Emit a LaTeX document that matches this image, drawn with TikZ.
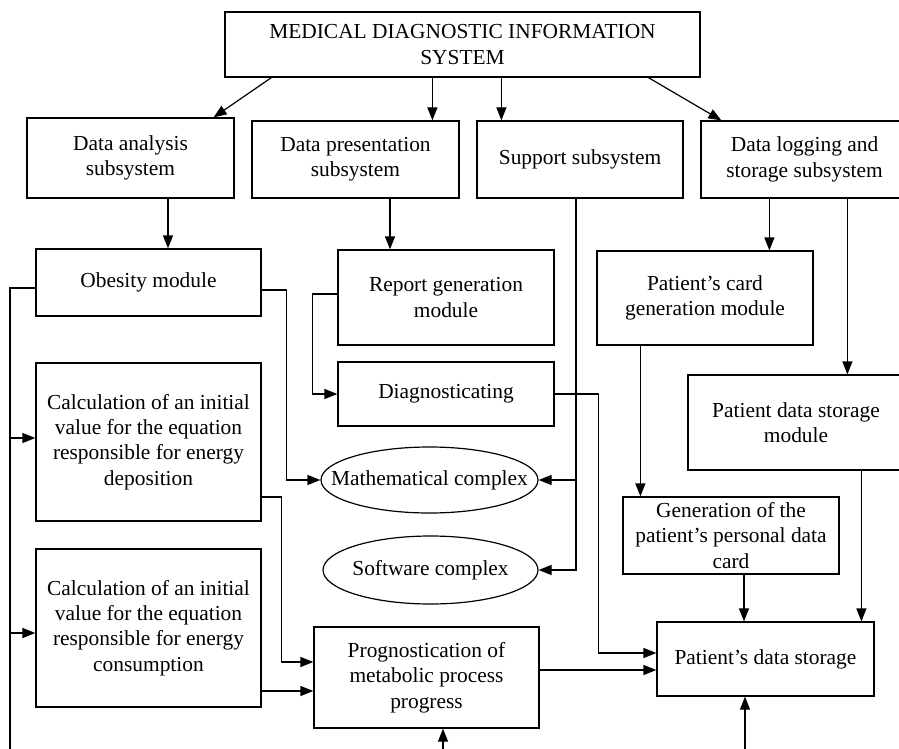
\documentclass[tikz,border=0pt]{standalone}
\usepackage{fontspec}
\setmainfont{Liberation Serif}
\usetikzlibrary{shapes.geometric,arrows.meta,calc}

\begin{document}
\begin{tikzpicture}
[x=0.5pt, y=-0.5pt, line width=0.6pt,
every node/.style={font=\fontsize{10.7pt}{12.7pt}\selectfont, align=center, inner sep=0pt},
block/.style={draw, rectangle},
complex/.style={draw, ellipse, inner xsep=-14pt},
arr/.style={-{Triangle[length=6.5pt,width=5pt]}}]
\useasboundingbox (0,0) rectangle (899,749);
\clip (0,0) rectangle (899,749);

% subsystems
\node[block, minimum width=237.5pt, minimum height=32.5pt] (sys) at (462.5,44.5) {MEDICAL DIAGNOSTIC INFORMATION\\SYSTEM};
\node[block, minimum width=103.5pt, minimum height=40pt] (ana) at (130.5,158) {Data analysis\\subsystem};
\node[block, minimum width=103.5pt, minimum height=38.5pt] (pres) at (355.5,159.5) {Data presentation\\subsystem};
\node[block, minimum width=103pt, minimum height=38.5pt] (sup) at (580,159.5) {Support subsystem};
\node[block, minimum width=103.5pt, minimum height=38.5pt] (log) at (804.5,159.5) {Data logging and\\storage subsystem};

% modules
\node[block, minimum width=112.5pt, minimum height=33.5pt] (obes) at (148.5,282.5) {Obesity module};
\node[block, minimum width=108pt, minimum height=47.5pt] (rep) at (446,297.5) {Report generation\\module};
\node[block, minimum width=108pt, minimum height=32pt] (diag) at (446,394) {Diagnosticating};
\node[block, minimum width=108pt, minimum height=47pt] (card) at (705,298) {Patient’s card\\generation module};
\node[block, minimum width=108pt, minimum height=47.5pt] (pdsm) at (796,422.5) {Patient data storage\\module};
\node[block, minimum width=112.5pt, minimum height=79pt] (calc1) at (148.5,442) {Calculation of an initial\\value for the equation\\responsible for energy\\deposition};
\node[block, minimum width=112.5pt, minimum height=79pt] (calc2) at (148.5,628) {Calculation of an initial\\value for the equation\\responsible for energy\\consumption};
\node[complex, minimum width=108.5pt, minimum height=33pt] (math) at (429.5,480) {Mathematical complex};
\node[complex, minimum width=107.5pt, minimum height=34pt] (soft) at (430.5,570) {Software complex};
\node[block, minimum width=108pt, minimum height=38.5pt] (gen) at (731,535.5) {Generation of the\\patient’s personal data\\card};
\node[block, minimum width=112.5pt, minimum height=50.5pt] (prog) at (426.5,677.5) {Prognostication of\\metabolic process\\progress};
\node[block, minimum width=108.5pt, minimum height=37pt] (pds) at (765.5,659) {Patient’s data storage};

% connection points
\coordinate (t1) at ($(sys.south west)+(47,0)$);
\coordinate (t2) at ($(sys.south west)+(208,0)$);
\coordinate (t3) at ($(sys.south west)+(277,0)$);
\coordinate (t4) at ($(sys.south west)+(424,0)$);
\coordinate (a1) at ($(ana.south)+(37.5,0)$);
\coordinate (p1) at ($(pres.south)+(34.5,0)$);
\coordinate (u1) at ($(sup.south)+(-4,0)$);
\coordinate (l1) at ($(log.south west)+(69,0)$);
\coordinate (l2) at ($(log.south west)+(147,0)$);
\coordinate (o1) at ($(obes.east)+(0,7.5)$);
\coordinate (o2) at ($(obes.west)+(0,5.5)$);
\coordinate (c1) at ($(card.south west)+(44,0)$);
\coordinate (m1) at ($(pdsm.south west)+(174,0)$);
\coordinate (g1) at ($(gen.south)+(13,0)$);
\coordinate (d1) at ($(pds.west)+(0,-6)$);
\coordinate (e1) at ($(calc1.east)+(0,55)$);
\coordinate (e2) at ($(calc2.east)+(0,63)$);
\coordinate (r1) at ($(prog.west)+(0,-15.5)$);
\coordinate (r2) at ($(prog.east)+(0,-7.5)$);
\coordinate (w1) at ($(calc1.west)+(0,-4)$);
\coordinate (w2) at ($(calc2.west)+(0,5)$);
\coordinate (lbot) at (10,749);
\coordinate (pbot) at (443,749);
\coordinate (dbot) at (745,749);

\draw[arr] (t1) -- ($(ana.north east)+(-21,0)$);
\draw[arr] (t2) -- (t2 |- pres.north);
\draw[arr] (t3) -- (t3 |- sup.north);
\draw[arr] (t4) -- ($(log.north west)+(21,0)$);
\draw[arr] (a1) -- (a1 |- obes.north);
\draw[arr] (p1) -- (p1 |- rep.north);
\draw[arr] (l1) -- (l1 |- card.north);
\draw[arr] (l2) -- (l2 |- pdsm.north);
\draw[arr] (u1) |- (math.east);
\draw[arr] (u1) |- (soft.east);
\draw[arr] (o1) -- ++(25,0) |- (math.west);
\draw (o2) -| (lbot);
\draw[arr] (lbot |- w1) -- (w1);
\draw[arr] (lbot |- w2) -- (w2);
\draw[arr] ($(rep.west)+(0,-3.5)$) -- ++(-25,0) |- (diag.west);
\draw[arr] (diag.east) -| ($(d1)+(-58,0)$) -- (d1);
\draw[arr] (c1) -- (c1 |- gen.north);
\draw[arr] (m1) -- (m1 |- pds.north);
\draw[arr] (g1) -- (g1 |- pds.north);
\draw[arr] (e1) -- ++(20,0) |- (r1);
\draw[arr] (e2) -- (e2 -| prog.west);
\draw[arr] (r2) -- (r2 -| pds.west);
\draw[arr] (pbot) -- (pbot |- prog.south);
\draw[arr] (dbot) -- (dbot |- pds.south);
\end{tikzpicture}
\end{document}
